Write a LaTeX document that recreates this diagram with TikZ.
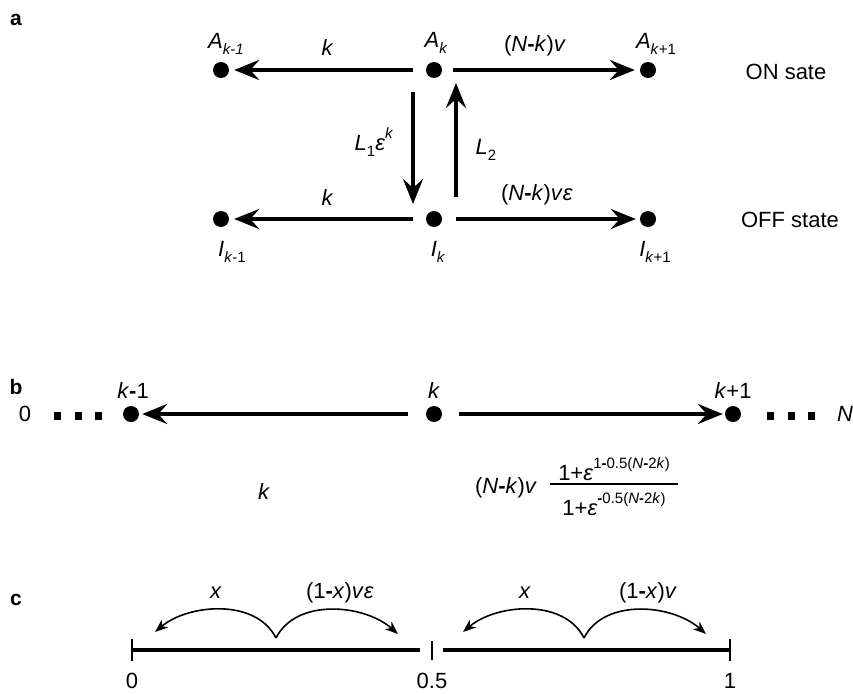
\documentclass[tikz,border=0pt]{standalone}
\usepackage{fontspec}
\setmainfont{Liberation Sans}
\usetikzlibrary{arrows.meta}
\newcommand{\ii}[1]{\textit{#1}}
\newcommand{\sbs}[1]{\raisebox{-0.3em}{\fontsize{15}{15}\selectfont #1}}
\newcommand{\sps}[1]{\raisebox{0.55em}{\fontsize{15}{15}\selectfont #1}}
\newcommand{\hy}{\textbf{-}}
\begin{document}
\begin{tikzpicture}[x=1pt,y=-1pt,
  every node/.style={font=\fontsize{22}{25}\selectfont, inner sep=0pt},
  dot/.style={circle, fill=black, minimum size=16pt},
  sq/.style={fill=black, minimum width=7pt, minimum height=8pt},
  bigarrow/.style={line width=4pt, -{Stealth[length=25pt,width=20pt,inset=9pt]}},
  smallarrow/.style={line width=1.6pt, -{Stealth[length=13pt,width=10pt,inset=4pt]}},
  axis/.style={line width=4pt},
  tick/.style={line width=2.5pt},
  panel/.style={font=\fontsize{21}{24}\selectfont\bfseries}]
\useasboundingbox (0,0) rectangle (853,693);

% ---------- panel a ----------
\node[panel] (la) at (16,20) {a};
\node[dot] (Akm) at (221,70) {};
\node[dot] (Ak)  at (434,70) {};
\node[dot] (Akp) at (648,70) {};
\node (tAkm) at (226,44) {\ii{A}\sbs{\ii{k-1}}};
\node (tAk)  at (436,43) {\ii{A}\sbs{\ii{k}}};
\node (tAkp) at (656,44) {\ii{A}\sbs{\ii{k}+1}};
\draw[bigarrow, shorten <=13pt, shorten >=5pt] (Ak) -- (Akm) node[midway, above=12pt] {\ii{k}};
\draw[bigarrow, shorten <=11pt, shorten >=5pt] (Ak) -- (Akp) node[midway, above=12pt, xshift=-6pt] {(\ii{N}\hy\ii{k})\ii{v}};
\node (ton) at (786,72) {ON sate};

\node[dot] (Ikm) at (221,219) {};
\node[dot] (Ik)  at (434,219) {};
\node[dot] (Ikp) at (648,219) {};
\node (tIkm) at (232,252) {\ii{I}\sbs{\ii{k}-1}};
\node (tIk)  at (438,252) {\ii{I}\sbs{\ii{k}}};
\node (tIkp) at (655,252) {\ii{I}\sbs{\ii{k}+1}};
\draw[bigarrow, shorten <=13pt, shorten >=5pt] (Ik) -- (Ikm) node[midway, above=12pt] {\ii{k}};
\draw[bigarrow, shorten <=14pt, shorten >=4pt] (Ik) -- (Ikp) node[midway, above=12pt, xshift=-4pt] {(\ii{N}\hy\ii{k})\ii{v}\ii{ε}};
\node (toff) at (790,220) {OFF state};

\coordinate (d1) at (413,92);
\coordinate (d2) at (413,204);
\coordinate (u1) at (456,197);
\coordinate (u2) at (456,83);
\draw[bigarrow] (d1) -- (d2);
\draw[bigarrow] (u1) -- (u2);
\node (tL1) at (374,142) {\ii{L}\sbs{1}\ii{ε}\sps{\ii{k}}};
\node (tL2) at (486,150) {\ii{L}\sbs{2}};

% ---------- panel b ----------
\node[panel] (lb) at (16,387) {b};
\node (t0) at (25,414) {0};
\node[sq] (s1) at (57,416) {};
\node[sq] (s2) at (78,416) {};
\node[sq] (s3) at (98,416) {};
\node[dot] (Bkm) at (131,414) {};
\node[dot] (Bk)  at (434,414) {};
\node[dot] (Bkp) at (733,414) {};
\node[sq] (s4) at (770,416) {};
\node[sq] (s5) at (791,416) {};
\node[sq] (s6) at (811,416) {};
\node (tN) at (845,414) {\ii{N}};
\node (tBkm) at (133,391) {\ii{k}\hy1};
\node (tBk)  at (434,391) {\ii{k}};
\node (tBkp) at (733,391) {\ii{k}+1};
\draw[bigarrow, shorten <=18pt, shorten >=3pt] (Bk) -- (Bkm);
\draw[bigarrow, shorten <=17pt, shorten >=2pt] (Bk) -- (Bkp);
\node (tbk) at (264,492) {\ii{k}};
\node (tfa) at (506,488) {(\ii{N}\hy\ii{k})\ii{v}};
\node (tnum) at (614,469) {1+\ii{ε}\sps{1\hy0.5(\ii{N}\hy2\ii{k})}};
\node (tden) at (614,504) {1+\ii{ε}\sps{\hy0.5(\ii{N}\hy2\ii{k})}};
\coordinate (f1) at (550,484);
\coordinate (f2) at (678,484);
\draw[line width=1.5pt] (f1) -- (f2);

% ---------- panel c ----------
\node[panel] (lc) at (16,600) {c};
\coordinate (c0) at (132,650);
\coordinate (c05a) at (420,650);
\coordinate (c05) at (432,650);
\coordinate (c05b) at (443,650);
\coordinate (c1) at (730,650);
\draw[axis] (c0) -- (c05a);
\draw[axis] (c05b) -- (c1);
\draw[tick] (132,639) -- (132,661);
\draw[tick] (432,641) -- (432,660);
\draw[tick] (730,639) -- (730,661);
\node (tc0) at (132,681) {0};
\node (tc05) at (432,681) {0.5};
\node (tc1) at (730,681) {1};

\coordinate (p1) at (276,638);
\coordinate (p1l) at (155,632);
\coordinate (p1r) at (398,634);
\draw[smallarrow] (p1) .. controls (256,598) and (188,604) .. (p1l);
\draw[smallarrow] (p1) .. controls (296,598) and (364,604) .. (p1r);
\coordinate (p2) at (584,638);
\coordinate (p2l) at (463,632);
\coordinate (p2r) at (706,634);
\draw[smallarrow] (p2) .. controls (564,598) and (496,604) .. (p2l);
\draw[smallarrow] (p2) .. controls (604,598) and (672,604) .. (p2r);
\node (tx1) at (216,593) {\ii{x}};
\node (tv1) at (340,593) {(1\hy\ii{x})\ii{v}\ii{ε}};
\node (tx2) at (525,593) {\ii{x}};
\node (tv2) at (648,593) {(1\hy\ii{x})\ii{v}};
\end{tikzpicture}
\end{document}
